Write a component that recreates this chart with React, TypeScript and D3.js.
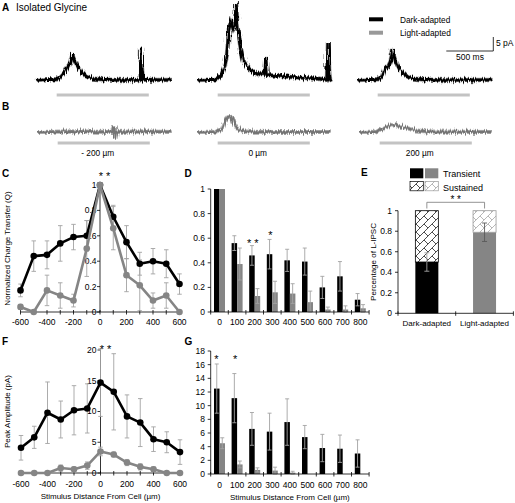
import React from 'react';
import * as d3 from 'd3';

type Pt = [number, number];

// ---------- Panel A: isolated glycine L-IPSCs, dark-adapted (time ms, current pA)
const traceA_neg200: Pt[] = [[0,0],[120,0.3],[220,0.2],[260,1.2],[300,2.8],[335,4.5],[365,6.2],[392,9.5],[405,7.4],[440,5.2],[480,3.0],[530,1.3],[600,0.5],[720,0.2],[900,0],[1100,0.1],[1112,0],[1118,11.5],[1126,4],[1140,0.2],[1300,0],[1445,0]];
const traceA_0: Pt[] = [[0,0],[200,0.2],[245,1.4],[290,4.5],[320,9],[340,18.6],[362,20.7],[383,18.6],[405,20],[415,27.5],[425,22],[436,17.9],[468,10.7],[500,6.4],[564,3.6],[649,2.1],[713,2.1],[729,8.2],[745,1.8],[989,1.1],[1309,0.4],[1383,0],[1394,13.2],[1405,4],[1415,0],[1436,-0.7]];
const traceA_200: Pt[] = [[0,0],[230,0.3],[265,1.5],[295,4.2],[330,4.6],[360,6.8],[385,11],[400,8],[430,5.2],[470,3.2],[520,1.5],[580,0.6],[700,0.2],[900,0],[1440,0]];

// ---------- Panel B: light-adapted
const traceB_neg200: Pt[] = [[0,0],[400,0.2],[800,0],[818,2.2],[833,-2.6],[850,0],[1100,0.2],[1430,0]];
const traceB_0: Pt[] = [[0,0],[200,0.1],[260,1],[300,4],[330,5.3],[365,5.4],[395,3.2],[440,0.9],[520,0.1],[900,0],[1420,0]];
const traceB_200: Pt[] = [[0,0],[170,0.1],[260,1.3],[360,2.8],[450,1.9],[600,0.6],[750,0.1],[1410,0]];

const stimulusWindow = [220, 1200]; // ms
const bLabels = ['- 200 µm', '0 µm', '200 µm'];

// ---------- Panel C: normalized charge transfer
const distances = [-600,-500,-400,-300,-200,-100,0,100,200,300,400,500,600];
const cDark = [0.17,0.44,0.45,0.54,0.59,0.60,1.0,0.75,0.55,0.38,0.40,0.38,0.22];
const cDarkErr = [0.05,0.12,0.11,0.14,0.10,0.12,0,0.09,0.13,0.09,0.10,0.11,0.08];
const cLight = [0.04,0,0.17,0.13,0.09,0.50,1.0,0.66,0.29,0.21,0.09,0.13,0];
const cLightErr = [0.02,0,0.12,0.10,0.05,0.22,0,0.17,0.13,0.20,0.06,0.10,0];

// ---------- Panel D: normalized charge transfer, binned
const bins = ['0','100','200','300','400','500','600','700','800'];
const dDark = [1,0.56,0.46,0.47,0.42,0.41,0.20,0.29,0.10];
const dDarkErr = [0,0.06,0.08,0.12,0.09,0.11,0.09,0.12,0.05];
const dLight = [1,0.39,0.13,0.16,0.15,0.08,0.02,0.02,0.03];
const dLightErr = [0,0.13,0.06,0.09,0.08,0.09,0.02,0.03,0.03];

// ---------- Panel E: transient / sustained
const eGroups = ['Dark-adapted','Light-adapted'];
const eTransient = [0.50,0.79];
const eTransientErr = [0.09,0.09];

// ---------- Panel F: peak amplitude
const fDark = [4.1,5.8,9.8,8.7,10.2,10.5,14.7,13.2,9.2,8.2,5.5,5.0,3.4];
const fDarkErr = [2.0,1.8,5.0,3.0,4.0,4.0,5.5,6.2,3.5,3.9,2.0,1.7,2.0];
const fLight = [0,0,0,0.8,0.6,1.2,3.5,3.0,1.7,1.0,0.6,0,0];
const fLightErr = [0,0,0,0.5,0.4,0.6,0.7,0.4,0.5,0.5,0.4,0,0];

// ---------- Panel G: peak amplitude, binned
const gDark = [12.5,11.1,6.6,6.2,7.6,5.4,3.8,3.7,3.0];
const gDarkErr = [3.6,3.6,2.4,2.7,3.4,1.7,2.0,2.0,2.0];
const gLight = [4.5,1.4,0.6,0.5,0.2,0,0,0,0];
const gLightErr = [0.8,0.5,0.3,0.5,0.2,0,0,0,0];

const FONT = "'Liberation Sans', Arial, Helvetica, sans-serif";
const GRAY = '#858585';
const ERR = '#a3a3a3';
const TICK_FS = 8.5;

function ErrBar({ x, y1, y2, cap = 4.5, color = ERR, w = 0.9 }: { x: number; y1: number; y2: number; cap?: number; color?: string; w?: number }) {
  return (
    <g stroke={color} strokeWidth={w}>
      <line x1={x} x2={x} y1={y1} y2={y2} />
      <line x1={x - cap / 2} x2={x + cap / 2} y1={y1} y2={y1} />
      <line x1={x - cap / 2} x2={x + cap / 2} y1={y2} y2={y2} />
    </g>
  );
}

const fmt = (v: number) => String(+v.toFixed(1));

export default function App() {
  // traces
  const tX = d3.scaleLinear().domain([0, 1000]).range([0, 94]);
  const tY = d3.scaleLinear().domain([0, 5]).range([0, -14]);
  const tLine = d3.line<Pt>().x(d => tX(d[0])).y(d => tY(d[1]));
  const startsA = [36, 197, 357];
  const startsB = [37, 197, 359];
  const tracesA = [traceA_neg200, traceA_0, traceA_200];
  const tracesB = [traceB_neg200, traceB_0, traceB_200];

  // C
  const xC = d3.scaleLinear().domain([-600, 600]).range([20.5, 179.5]);
  const yC = d3.scaleLinear().domain([0, 1]).range([312, 185]);
  const lineC = d3.line<number>().x((_, i) => xC(distances[i])).y(v => yC(v));

  // D
  const xD = d3.scaleBand<string>().domain(bins).range([210.7, 369.1]);
  const yD = d3.scaleLinear().domain([0, 1]).range([312, 189]);
  const bw = 5.5;

  // E
  const xE = d3.scaleBand<string>().domain(eGroups).range([398, 513.4]);
  const yE = d3.scaleLinear().domain([0, 1]).range([313.3, 210.7]);
  const ebw = 23;

  // F
  const xF = d3.scaleLinear().domain([-600, 600]).range([21, 180]);
  const yF = d3.scaleLinear().domain([0, 20]).range([473, 350]);
  const lineF = d3.line<number>().x((_, i) => xF(distances[i])).y(v => yF(v));

  // G
  const xG = d3.scaleBand<string>().domain(bins).range([210.7, 369.1]);
  const yG = d3.scaleLinear().domain([0, 18]).range([474, 351]);

  const bandBoundaries = (sc: d3.ScaleBand<string>) => [...sc.domain().map(d => sc(d)!), sc.range()[1]];

  const panelLetter = (t: string, x: number, y: number) => (
    <text x={x} y={y} fontWeight="bold" fontSize={10}>{t}</text>
  );

  return (
    <svg width={515} height={503} viewBox="0 0 515 503" style={{ position: 'absolute', left: 0, top: 0, background: '#fff' }} fontFamily={FONT}>
      <defs>
        <filter id="noisy" filterUnits="userSpaceOnUse" x={-10} y={-100} width={170} height={130}>
          <feTurbulence type="fractalNoise" baseFrequency="1.2 0.06" numOctaves={2} seed={7} result="t" />
          <feDisplacementMap in="SourceGraphic" in2="t" scale={7} xChannelSelector="R" yChannelSelector="G" />
        </filter>
        <pattern id="hatchDark" patternUnits="userSpaceOnUse" width={8} height={8}>
          <rect width={8} height={8} fill="#fff" />
          <path d="M-1,9 L9,-1" stroke="#000" strokeWidth={0.7} />
          <path d="M0,0 L4,4" stroke="#000" strokeWidth={0.7} />
        </pattern>
        <pattern id="hatchLight" patternUnits="userSpaceOnUse" width={8} height={8}>
          <rect width={8} height={8} fill="#fff" />
          <path d="M-1,9 L9,-1" stroke="#999" strokeWidth={0.7} />
          <path d="M0,0 L4,4" stroke="#999" strokeWidth={0.7} />
        </pattern>
      </defs>

      {/* ---------------- A ---------------- */}
      {panelLetter('A', 2, 11)}
      <text x={16} y={11} fontSize={10}>Isolated Glycine</text>
      {tracesA.map((tr, i) => (
        <g key={'a' + i} transform={`translate(${startsA[i]},80)`}>
          <path d={tLine(tr)!} fill="none" stroke="#9a9a9a" strokeWidth={4.6} filter="url(#noisy)" />
          <path d={tLine(tr)!} fill="none" stroke="#000" strokeWidth={3.2} filter="url(#noisy)" />
          <line x1={tX(stimulusWindow[0])} x2={tX(stimulusWindow[1])} y1={15} y2={15} stroke="#c3c3c3" strokeWidth={3} />
        </g>
      ))}
      {/* legend */}
      <line x1={369} x2={383} y1={19.3} y2={19.3} stroke="#000" strokeWidth={4} />
      <line x1={369} x2={383} y1={32.7} y2={32.7} stroke="#999" strokeWidth={4} />
      <text x={400} y={22.5} fontSize={8.3}>Dark-adapted</text>
      <text x={400} y={36} fontSize={8.3}>Light-adapted</text>
      {/* scale bar */}
      <line x1={493.3} x2={493.3} y1={51} y2={51 + tY(5)} stroke="#000" strokeWidth={0.8} />
      <line x1={493.3 - tX(500)} x2={493.3} y1={51} y2={51} stroke="#000" strokeWidth={0.8} />
      <text x={496} y={46} fontSize={8.5}>5 pA</text>
      <text x={470} y={60} fontSize={8.5} textAnchor="middle">500 ms</text>

      {/* ---------------- B ---------------- */}
      {panelLetter('B', 2, 110)}
      {tracesB.map((tr, i) => (
        <g key={'b' + i} transform={`translate(${startsB[i]},132)`}>
          <path d={tLine(tr)!} fill="none" stroke="#b0b0b0" strokeWidth={4.2} filter="url(#noisy)" />
          <path d={tLine(tr)!} fill="none" stroke="#747474" strokeWidth={2.4} filter="url(#noisy)" />
          <line x1={tX(stimulusWindow[0])} x2={tX(stimulusWindow[1])} y1={11} y2={11} stroke="#c3c3c3" strokeWidth={3} />
          <text x={tX((stimulusWindow[0] + stimulusWindow[1]) / 2) - 6} y={24} fontSize={8.3} textAnchor="middle">{bLabels[i]}</text>
        </g>
      ))}

      {/* ---------------- C ---------------- */}
      {panelLetter('C', 2, 177)}
      <g fontSize={TICK_FS}>
        <line x1={xC(-600)} x2={xC(600)} y1={yC(0)} y2={yC(0)} stroke="#000" strokeWidth={0.8} />
        {d3.range(-600, 601, 100).map(v => (
          <line key={v} x1={xC(v)} x2={xC(v)} y1={yC(0) - 2} y2={yC(0) + 2.5} stroke="#000" strokeWidth={0.8} />
        ))}
        {d3.range(-600, 601, 200).map(v => (
          <text key={v} x={xC(v)} y={325} textAnchor="middle">{v}</text>
        ))}
        <line x1={xC(0)} x2={xC(0)} y1={yC(0)} y2={yC(1)} stroke="#000" strokeWidth={0.8} />
        {yC.ticks(5).map(v => (
          <g key={v}>
            <line x1={xC(0) - 3} x2={xC(0)} y1={yC(v)} y2={yC(v)} stroke="#000" strokeWidth={0.8} />
            <text x={xC(0) - 3.5} y={yC(v)} dy="0.35em" textAnchor="end">{fmt(v)}</text>
          </g>
        ))}
        <text transform={`translate(10,${(yC(0) + yC(1)) / 2}) rotate(-90)`} textAnchor="middle" fontSize={8}>Normalized Charge Transfer (Q)</text>
      </g>
      {distances.map((d, i) => (
        <g key={'ce' + i}>
          {cDarkErr[i] > 0 && <ErrBar x={xC(d)} y1={yC(cDark[i] - cDarkErr[i])} y2={yC(cDark[i] + cDarkErr[i])} />}
          {cLightErr[i] > 0 && <ErrBar x={xC(d)} y1={yC(cLight[i] - cLightErr[i])} y2={yC(cLight[i] + cLightErr[i])} />}
        </g>
      ))}
      <path d={lineC(cDark)!} fill="none" stroke="#000" strokeWidth={2.6} strokeLinejoin="round" />
      {cDark.map((v, i) => <circle key={'cd' + i} cx={xC(distances[i])} cy={yC(v)} r={3.3} fill="#000" />)}
      <path d={lineC(cLight)!} fill="none" stroke={GRAY} strokeWidth={2.6} strokeLinejoin="round" />
      {cLight.map((v, i) => <circle key={'cl' + i} cx={xC(distances[i])} cy={yC(v)} r={3.3} fill={GRAY} />)}
      <text x={xC(0) + 4.5} y={180} fontSize={11} textAnchor="middle">* *</text>

      {/* ---------------- D ---------------- */}
      {panelLetter('D', 184.5, 177)}
      <g fontSize={TICK_FS}>
        {bins.map((b, i) => {
          const c = xD(b)! + xD.bandwidth() / 2;
          return (
            <g key={'d' + b}>
              <rect x={c - bw} y={yD(dDark[i])} width={bw} height={yD(0) - yD(dDark[i])} fill="#000" />
              <rect x={c} y={yD(dLight[i])} width={bw} height={yD(0) - yD(dLight[i])} fill={GRAY} />
              {dDarkErr[i] > 0 && <ErrBar x={c - bw / 2} y1={yD(dDark[i] - dDarkErr[i])} y2={yD(dDark[i] + dDarkErr[i])} cap={4} />}
              {dLightErr[i] > 0 && <ErrBar x={c + bw / 2} y1={yD(Math.max(0, dLight[i] - dLightErr[i]))} y2={yD(dLight[i] + dLightErr[i])} cap={4} />}
              <text x={c} y={325} textAnchor="middle">{b}</text>
            </g>
          );
        })}
        <line x1={xD.range()[0]} x2={xD.range()[1]} y1={yD(0)} y2={yD(0)} stroke="#000" strokeWidth={0.8} />
        {bandBoundaries(xD).map((x, i) => (
          <line key={i} x1={x} x2={x} y1={yD(0) - 2} y2={yD(0) + 2.5} stroke="#000" strokeWidth={0.8} />
        ))}
        <line x1={xD.range()[0]} x2={xD.range()[0]} y1={yD(0)} y2={yD(1)} stroke="#000" strokeWidth={0.8} />
        {yD.ticks(5).map(v => (
          <g key={v}>
            <line x1={xD.range()[0] - 3} x2={xD.range()[0]} y1={yD(v)} y2={yD(v)} stroke="#000" strokeWidth={0.8} />
            <text x={205} y={yD(v)} dy="0.35em" textAnchor="end">{fmt(v)}</text>
          </g>
        ))}
      </g>
      <text x={xD('200')! + xD.bandwidth() / 2 - 2} y={247} fontSize={11} textAnchor="middle">* *</text>
      <text x={xD('300')! + xD.bandwidth() / 2 - 2} y={239} fontSize={11} textAnchor="middle">*</text>

      {/* ---------------- E ---------------- */}
      {panelLetter('E', 361, 176)}
      <rect x={410} y={168.3} width={13.3} height={10} fill="#000" />
      <rect x={425} y={168.3} width={13.3} height={10} fill={GRAY} />
      <rect x={410} y={181.5} width={13.3} height={9.3} fill="url(#hatchDark)" stroke="#000" strokeWidth={0.7} />
      <rect x={425} y={181.5} width={13.3} height={9.3} fill="url(#hatchLight)" stroke="#999" strokeWidth={0.7} />
      <text x={443} y={177} fontSize={9}>Transient</text>
      <text x={443} y={190.5} fontSize={9}>Sustained</text>
      <g fontSize={TICK_FS}>
        {eGroups.map((g, i) => {
          const c = xE(g)! + xE.bandwidth() / 2;
          const dark = i === 0;
          return (
            <g key={g}>
              <rect x={c - ebw / 2} y={yE(eTransient[i])} width={ebw} height={yE(0) - yE(eTransient[i])} fill={dark ? '#000' : GRAY} />
              <rect x={c - ebw / 2} y={yE(1)} width={ebw} height={yE(eTransient[i]) - yE(1)} fill={dark ? 'url(#hatchDark)' : 'url(#hatchLight)'} stroke={dark ? '#000' : '#999'} strokeWidth={0.8} />
              <ErrBar x={c} y1={yE(eTransient[i] - eTransientErr[i])} y2={yE(eTransient[i] + eTransientErr[i])} cap={5} color={dark ? ERR : '#5a5a5a'} />
              <text x={c} y={326} textAnchor="middle" fontSize={8}>{g}</text>
            </g>
          );
        })}
        <line x1={xE.range()[0]} x2={xE.range()[1]} y1={yE(0)} y2={yE(0)} stroke="#000" strokeWidth={0.8} />
        {bandBoundaries(xE).map((x, i) => (
          <line key={i} x1={x} x2={x} y1={yE(0) - 2} y2={yE(0) + 2.5} stroke="#000" strokeWidth={0.8} />
        ))}
        <line x1={xE.range()[0]} x2={xE.range()[0]} y1={yE(0)} y2={yE(1)} stroke="#000" strokeWidth={0.8} />
        {yE.ticks(5).map(v => (
          <g key={v}>
            <line x1={xE.range()[0] - 3} x2={xE.range()[0]} y1={yE(v)} y2={yE(v)} stroke="#000" strokeWidth={0.8} />
            <text x={392} y={yE(v)} dy="0.35em" textAnchor="end">{fmt(v)}</text>
          </g>
        ))}
        <text transform={`translate(376,${(yE(0) + yE(1)) / 2}) rotate(-90)`} textAnchor="middle" fontSize={8}>Percentage of L-IPSC</text>
      </g>
      {(() => {
        const c0 = xE(eGroups[0])! + xE.bandwidth() / 2;
        const c1 = xE(eGroups[1])! + xE.bandwidth() / 2;
        return (
          <g>
            <path d={`M${c0},208.5 V202.3 H${c1} V208.5`} fill="none" stroke="#777" strokeWidth={0.8} />
            <text x={(c0 + c1) / 2} y={203} fontSize={10} textAnchor="middle">* *</text>
          </g>
        );
      })()}

      {/* ---------------- F ---------------- */}
      {panelLetter('F', 2, 345)}
      <g fontSize={TICK_FS}>
        <line x1={xF(-600)} x2={xF(600)} y1={yF(0)} y2={yF(0)} stroke="#000" strokeWidth={0.8} />
        {d3.range(-600, 601, 100).map(v => (
          <line key={v} x1={xF(v)} x2={xF(v)} y1={yF(0) - 2} y2={yF(0) + 2.5} stroke="#000" strokeWidth={0.8} />
        ))}
        {d3.range(-600, 601, 200).map(v => (
          <text key={v} x={xF(v)} y={487} textAnchor="middle">{v}</text>
        ))}
        <line x1={xF(0)} x2={xF(0)} y1={yF(0)} y2={yF(20)} stroke="#000" strokeWidth={0.8} />
        {yF.ticks(4).map(v => (
          <g key={v}>
            <line x1={xF(0) - 3} x2={xF(0)} y1={yF(v)} y2={yF(v)} stroke="#000" strokeWidth={0.8} />
            <text x={xF(0) - 4} y={yF(v)} dy="0.35em" textAnchor="end">{v}</text>
          </g>
        ))}
        <text transform={`translate(10,${(yF(0) + yF(20)) / 2}) rotate(-90)`} textAnchor="middle" fontSize={8}>Peak Amplitude (pA)</text>
        <text x={xF(0)} y={499} textAnchor="middle" fontSize={8}>Stimulus Distance From Cell (µm)</text>
      </g>
      {distances.map((d, i) => (
        <g key={'fe' + i}>
          {fDarkErr[i] > 0 && <ErrBar x={xF(d)} y1={yF(fDark[i] - fDarkErr[i])} y2={yF(fDark[i] + fDarkErr[i])} />}
          {fLightErr[i] > 0 && <ErrBar x={xF(d)} y1={yF(Math.max(0, fLight[i] - fLightErr[i]))} y2={yF(fLight[i] + fLightErr[i])} />}
        </g>
      ))}
      <path d={lineF(fDark)!} fill="none" stroke="#000" strokeWidth={2.6} strokeLinejoin="round" />
      {fDark.map((v, i) => <circle key={'fd' + i} cx={xF(distances[i])} cy={yF(v)} r={3.3} fill="#000" />)}
      <path d={lineF(fLight)!} fill="none" stroke={GRAY} strokeWidth={2.6} strokeLinejoin="round" />
      {fLight.map((v, i) => <circle key={'fl' + i} cx={xF(distances[i])} cy={yF(v)} r={3.3} fill={GRAY} />)}
      <text x={xF(0) + 5} y={353} fontSize={11} textAnchor="middle">* *</text>

      {/* ---------------- G ---------------- */}
      {panelLetter('G', 184.5, 345)}
      <g fontSize={TICK_FS}>
        {bins.map((b, i) => {
          const c = xG(b)! + xG.bandwidth() / 2;
          return (
            <g key={'g' + b}>
              <rect x={c - bw} y={yG(gDark[i])} width={bw} height={yG(0) - yG(gDark[i])} fill="#000" />
              <rect x={c} y={yG(gLight[i])} width={bw} height={yG(0) - yG(gLight[i])} fill={GRAY} />
              {gDarkErr[i] > 0 && <ErrBar x={c - bw / 2} y1={yG(gDark[i] - gDarkErr[i])} y2={yG(gDark[i] + gDarkErr[i])} cap={4} />}
              {gLightErr[i] > 0 && <ErrBar x={c + bw / 2} y1={yG(Math.max(0, gLight[i] - gLightErr[i]))} y2={yG(gLight[i] + gLightErr[i])} cap={4} />}
              <text x={c} y={488} textAnchor="middle">{b}</text>
            </g>
          );
        })}
        <line x1={xG.range()[0]} x2={xG.range()[1]} y1={yG(0)} y2={yG(0)} stroke="#000" strokeWidth={0.8} />
        {bandBoundaries(xG).map((x, i) => (
          <line key={i} x1={x} x2={x} y1={yG(0) - 2} y2={yG(0) + 2.5} stroke="#000" strokeWidth={0.8} />
        ))}
        <line x1={xG.range()[0]} x2={xG.range()[0]} y1={yG(0)} y2={yG(18)} stroke="#000" strokeWidth={0.8} />
        {d3.range(0, 19, 2).map(v => (
          <g key={v}>
            <line x1={xG.range()[0] - 3} x2={xG.range()[0]} y1={yG(v)} y2={yG(v)} stroke="#000" strokeWidth={0.8} />
            <text x={205} y={yG(v)} dy="0.35em" textAnchor="end">{v}</text>
          </g>
        ))}
        <text x={(xG.range()[0] + xG.range()[1]) / 2} y={500} textAnchor="middle" fontSize={8}>Stimulus Distance From Cell (µm)</text>
      </g>
      <text x={xG('0')! + xG.bandwidth() / 2 - 3} y={363} fontSize={11} textAnchor="middle">*</text>
      <text x={xG('100')! + xG.bandwidth() / 2 - 2} y={363} fontSize={11} textAnchor="middle">*</text>
    </svg>
  );
}
